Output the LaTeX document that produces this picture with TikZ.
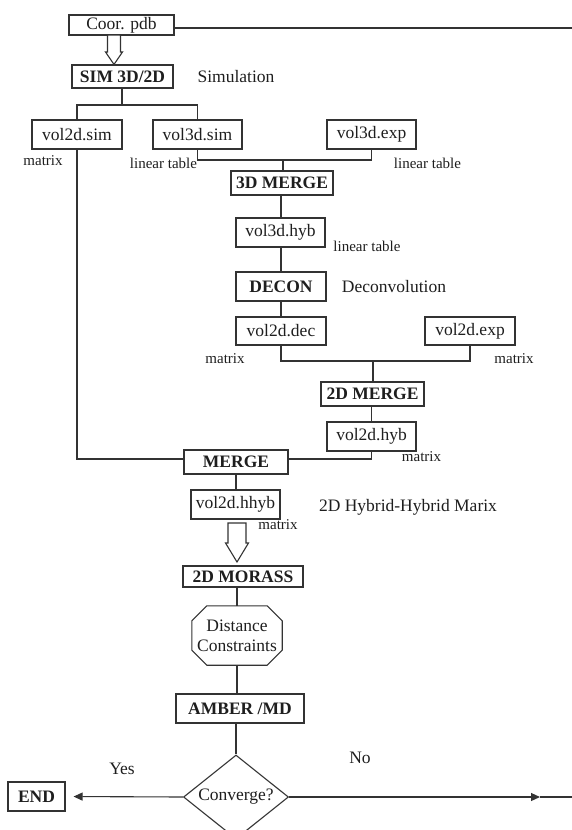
\documentclass[tikz,border=0pt]{standalone}
\usepackage{fontspec}
\setmainfont{Liberation Serif}
\usetikzlibrary{arrows.meta,shapes.geometric,calc}
\definecolor{ln}{HTML}{333333}
\definecolor{tx}{HTML}{1E1E1E}
\newcommand\myfont{\fontsize{17.5}{20}\selectfont}
\newcommand\mysmall{\fontsize{15}{17}\selectfont}
\begin{document}
\begin{tikzpicture}[x=1pt,y=-1pt,
  every node/.style={inner sep=0pt,text=tx},
  fbox/.style={draw=ln,line width=1.1pt,font=\myfont,minimum height=29pt},
  bbox/.style={fbox,font=\myfont\bfseries},
  lbl/.style={font=\mysmall},
  txt/.style={font=\myfont},
  conn/.style={draw=ln,line width=1.1pt},
  hollow/.style={draw=ln,line width=1.1pt,fill=white,line join=miter},
  tip/.style={-{Triangle[length=9pt,width=8pt]}}]
\useasboundingbox (0,0) rectangle (572,830);

% nodes
\node[fbox,minimum width=105pt,minimum height=20pt] (coor) at (121.5,25) {Coor. pdb};
\node[bbox,minimum width=101pt,minimum height=23pt] (sim) at (122.5,76.5) {SIM 3D/2D};
\node[txt] (simlbl) at (236,77) {Simulation};

\node[fbox,minimum width=90pt] (v2sim) at (77,134.5) {vol2d.sim};
\node[fbox,minimum width=89pt] (v3sim) at (197.5,134.5) {vol3d.sim};
\node[fbox,minimum width=89pt] (v3exp) at (371.5,134.5) {vol3d.exp};
\node[lbl] (l1) at (43,161) {matrix};
\node[lbl] (l2) at (163.5,163) {linear table};
\node[lbl] (l3) at (427.5,163) {linear table};

\node[bbox,minimum width=102pt,minimum height=24pt] (merge3) at (282,183) {3D MERGE};
\node[fbox,minimum width=89pt] (v3hyb) at (280.5,232.5) {vol3d.hyb};
\node[lbl] (l4) at (367,246) {linear table};

\node[bbox,minimum width=90pt] (decon) at (281,286.5) {DECON};
\node[txt] (deconlbl) at (394,287) {Deconvolution};

\node[fbox,minimum width=90pt,minimum height=28pt] (v2dec) at (281,331) {vol2d.dec};
\node[fbox,minimum width=90pt,minimum height=28pt] (v2exp) at (470,331) {vol2d.exp};
\node[lbl] (l5) at (225,359) {matrix};
\node[lbl] (l6) at (514,359) {matrix};

\node[bbox,minimum width=103pt,minimum height=24pt] (merge2) at (372.5,394) {2D MERGE};
\node[fbox,minimum width=89pt] (v2hyb) at (371.5,436.5) {vol2d.hyb};
\node[lbl] (l7) at (421.5,457) {matrix};

\node[bbox,minimum width=104pt,minimum height=24pt] (merge) at (236,462) {MERGE};
\node[fbox,minimum width=89pt] (v2hhyb) at (235.5,504.5) {vol2d.hhyb};
\node[lbl] (l8) at (278,525) {matrix};
\node[txt] (hhlbl) at (408,507) {2D Hybrid-Hybrid Marix};

\node[bbox,minimum width=120pt,minimum height=21pt] (morass) at (243,576.5) {2D MORASS};
\node[txt,minimum width=90pt,minimum height=59pt,align=center] (oct) at (237,635.5) {Distance\\Constraints};
\draw[conn] ($(oct.north west)+(15,0)$) -- ($(oct.north east)+(-15,0)$) -- ($(oct.north east)+(0,15)$) -- ($(oct.south east)+(0,-15)$) -- ($(oct.south east)+(-15,0)$) -- ($(oct.south west)+(15,0)$) -- ($(oct.south west)+(0,-15)$) -- ($(oct.north west)+(0,15)$) -- cycle;

\node[bbox,minimum width=128pt] (amber) at (240,708.5) {AMBER /MD};
\node[diamond,draw=ln,line width=1.1pt,minimum width=105pt,minimum height=84pt,aspect=1.25,font=\myfont] (conv) at (236,797) {Converge?};
\node[bbox,minimum width=57pt] (end) at (36.5,796.5) {END};
\node[txt] (yes) at (122,769) {Yes};
\node[txt] (no) at (360,758) {No};

\coordinate (rt) at (572,28);
\coordinate (j1) at (122,105);
\coordinate (j2) at (283,160);
\coordinate (j3) at (373,361);
\coordinate (rtip) at (540,797);
\coordinate (rb) at (572,797);
\coordinate (a1t) at (114,35);
\coordinate (a2t) at (237,523);

% connectors
\draw[conn] ([yshift=-3pt]coor.east) -- (rt);
\draw[hollow] ($(a1t)+(-6.5,0)$) -- ($(a1t)+(-6.5,17)$) -- ($(a1t)+(-8.5,17)$) -- (a1t |- sim.north) -- ($(a1t)+(8.5,17)$) -- ($(a1t)+(6.5,17)$) -- ($(a1t)+(6.5,0)$) -- cycle;
\draw[conn] (sim.south -| j1) -- (j1);
\draw[conn] (v2sim.north) |- (j1) -| (v3sim.north);
\draw[conn] (v3sim.south) |- (j2) -| (v3exp.south);
\draw[conn] (j2) -- (j2 |- merge3.north);
\draw[conn] (v3hyb.north -| 281,0) -- (merge3.south -| 281,0);
\draw[conn] (v3hyb.south -| 281,0) -- (decon.north -| 281,0);
\draw[conn] (decon.south) -- (v2dec.north);
\draw[conn] (v2dec.south) |- (j3) -| (v2exp.south);
\draw[conn] (j3) -- (j3 |- merge2.north);
\draw[conn] (merge2.south -| v2hyb.south) -- (v2hyb.north);
\draw[conn] (v2hyb.south) |- ([yshift=3pt]merge.east);
\draw[conn] (v2sim.south) |- ([yshift=3pt]merge.west);
\draw[conn] (merge.south) -- (merge.south |- v2hhyb.north);
\draw[hollow] ($(a2t)+(-9,0)$) -- ($(a2t)+(-9,20)$) -- ($(a2t)+(-11.5,20)$) -- ($(a2t)+(0,39)$) -- ($(a2t)+(11.5,20)$) -- ($(a2t)+(9,20)$) -- ($(a2t)+(9,0)$) -- cycle;
\draw[conn] (oct.north |- morass.south) -- (oct.north);
\draw[conn] (oct.south) -- (oct.south |- amber.north);
\draw[conn] (conv.north |- amber.south) -- (conv.north);
\draw[conn,tip,shorten >=8pt] (conv.west) -- (end.east);
\draw[conn,tip] (conv.east) -- (rtip);
\draw[conn] (rtip) -- (rb);
\end{tikzpicture}
\end{document}
